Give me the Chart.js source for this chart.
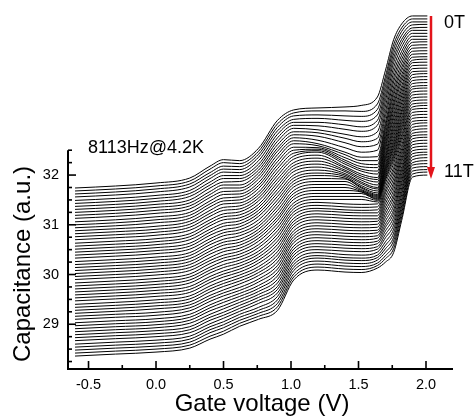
<!DOCTYPE html>
<html>
<head>
<meta charset="utf-8">
<script src="https://cdn.jsdelivr.net/npm/chart.js@4.4.1/dist/chart.umd.min.js"></script>
<style>
  html, body { margin: 0; padding: 0; background: #fff; }
  #wrap { width: 475px; height: 416px; }
</style>
</head>
<body>
<div id="wrap"><canvas id="capChart" width="475" height="416"></canvas></div>
<script>
// gate voltage sample points (V), shared by every trace
const gateVoltage = [-0.6, -0.3, 0.0, 0.25, 0.4, 0.5, 0.62, 0.76, 0.9, 1.02, 1.2, 1.4, 1.52, 1.64, 1.70, 1.76, 1.82, 1.9, 2.01];

// one trace per field step, 0T on top down to 11T (traces offset as in the figure)
const fieldTesla = [0, 0.2, 0.4, 0.6, 0.8, 1.0, 1.2, 1.4, 1.6, 1.8, 2.0, 2.2, 2.4, 2.6, 2.8, 3.0, 3.2, 3.4, 3.6, 3.8,
  4.0, 4.2, 4.4, 4.6, 4.8, 5.0, 5.2, 5.4, 5.6, 5.8, 6.0, 6.2, 6.4, 6.6, 6.8, 7.0, 7.2, 7.4, 7.6, 7.8,
  8.0, 8.2, 8.4, 8.6, 8.8, 9.0, 9.2, 9.4, 9.6, 9.8, 10.0, 10.2, 10.4, 10.6, 10.8, 11.0];

// capacitance (a.u.), one row per field value
const capacitance = [
  [31.74, 31.78, 31.84, 31.94, 32.18, 32.31, 32.29, 32.54, 33.10, 33.31, 33.35, 33.37, 33.40, 33.57, 34.11, 34.72, 35.04, 35.20, 35.20],
  [31.68, 31.72, 31.78, 31.88, 32.12, 32.25, 32.23, 32.48, 33.03, 33.25, 33.29, 33.29, 33.28, 33.43, 33.99, 34.62, 34.96, 35.14, 35.14],
  [31.62, 31.66, 31.72, 31.82, 32.05, 32.18, 32.17, 32.42, 32.96, 33.19, 33.21, 33.19, 33.18, 33.32, 33.90, 34.53, 34.89, 35.08, 35.08],
  [31.56, 31.60, 31.66, 31.76, 31.99, 32.12, 32.11, 32.36, 32.89, 33.12, 33.14, 33.10, 33.08, 33.21, 33.80, 34.44, 34.81, 35.02, 35.03],
  [31.49, 31.53, 31.59, 31.69, 31.93, 32.06, 32.05, 32.29, 32.82, 33.06, 33.06, 33.01, 32.97, 33.10, 33.70, 34.35, 34.73, 34.96, 34.97],
  [31.43, 31.47, 31.53, 31.63, 31.86, 31.99, 31.99, 32.22, 32.75, 33.00, 32.99, 32.92, 32.88, 33.00, 33.60, 34.26, 34.66, 34.91, 34.91],
  [31.37, 31.41, 31.47, 31.57, 31.80, 31.93, 31.93, 32.16, 32.68, 32.94, 32.91, 32.82, 32.77, 32.87, 33.50, 34.16, 34.58, 34.85, 34.85],
  [31.31, 31.35, 31.41, 31.50, 31.74, 31.86, 31.87, 32.10, 32.61, 32.87, 32.85, 32.74, 32.67, 32.74, 33.39, 34.06, 34.49, 34.79, 34.79],
  [31.25, 31.29, 31.35, 31.44, 31.67, 31.80, 31.80, 32.04, 32.54, 32.81, 32.78, 32.65, 32.57, 32.62, 33.28, 33.96, 34.41, 34.73, 34.73],
  [31.19, 31.23, 31.29, 31.38, 31.61, 31.74, 31.74, 31.98, 32.48, 32.75, 32.70, 32.55, 32.46, 32.50, 33.18, 33.87, 34.33, 34.67, 34.68],
  [31.13, 31.17, 31.23, 31.32, 31.55, 31.67, 31.68, 31.92, 32.41, 32.69, 32.63, 32.46, 32.36, 32.37, 33.07, 33.77, 34.25, 34.61, 34.62],
  [31.06, 31.10, 31.16, 31.25, 31.48, 31.61, 31.62, 31.85, 32.34, 32.63, 32.59, 32.41, 32.29, 32.29, 32.99, 33.68, 34.17, 34.55, 34.56],
  [31.00, 31.04, 31.10, 31.19, 31.42, 31.54, 31.56, 31.79, 32.27, 32.56, 32.55, 32.35, 32.23, 32.21, 32.92, 33.60, 34.10, 34.49, 34.50],
  [30.94, 30.98, 31.04, 31.13, 31.36, 31.48, 31.50, 31.73, 32.20, 32.50, 32.52, 32.30, 32.17, 32.15, 32.84, 33.51, 34.02, 34.43, 34.44],
  [30.88, 30.92, 30.97, 31.07, 31.29, 31.42, 31.44, 31.66, 32.13, 32.44, 32.49, 32.26, 32.12, 32.08, 32.77, 33.43, 33.95, 34.37, 34.38],
  [30.82, 30.86, 30.91, 31.01, 31.23, 31.35, 31.38, 31.60, 32.06, 32.38, 32.46, 32.22, 32.08, 32.02, 32.71, 33.36, 33.88, 34.31, 34.33],
  [30.76, 30.80, 30.85, 30.95, 31.17, 31.29, 31.32, 31.54, 31.99, 32.32, 32.40, 32.17, 32.02, 31.95, 32.64, 33.28, 33.80, 34.26, 34.27],
  [30.70, 30.74, 30.79, 30.89, 31.10, 31.22, 31.26, 31.48, 31.92, 32.25, 32.34, 32.14, 31.98, 31.91, 32.58, 33.20, 33.73, 34.20, 34.21],
  [30.63, 30.67, 30.72, 30.82, 31.04, 31.16, 31.20, 31.41, 31.85, 32.19, 32.28, 32.10, 31.94, 31.86, 32.52, 33.13, 33.66, 34.14, 34.15],
  [30.57, 30.61, 30.66, 30.76, 30.98, 31.10, 31.14, 31.35, 31.78, 32.13, 32.22, 32.07, 31.90, 31.80, 32.45, 33.05, 33.59, 34.08, 34.09],
  [30.51, 30.55, 30.60, 30.70, 30.91, 31.03, 31.08, 31.29, 31.71, 32.07, 32.16, 32.03, 31.86, 31.75, 32.39, 32.98, 33.52, 34.02, 34.04],
  [30.45, 30.49, 30.54, 30.63, 30.85, 30.97, 31.02, 31.23, 31.64, 32.00, 32.10, 32.00, 31.83, 31.72, 32.34, 32.91, 33.45, 33.96, 33.98],
  [30.39, 30.43, 30.48, 30.57, 30.79, 30.90, 30.96, 31.17, 31.57, 31.94, 32.04, 31.97, 31.79, 31.68, 32.29, 32.84, 33.38, 33.90, 33.92],
  [30.33, 30.37, 30.42, 30.51, 30.72, 30.84, 30.90, 31.10, 31.50, 31.88, 31.99, 31.94, 31.76, 31.64, 32.23, 32.77, 33.31, 33.84, 33.86],
  [30.26, 30.30, 30.35, 30.44, 30.66, 30.78, 30.84, 31.03, 31.43, 31.82, 31.93, 31.92, 31.74, 31.61, 32.18, 32.70, 33.25, 33.78, 33.80],
  [30.20, 30.24, 30.29, 30.38, 30.60, 30.71, 30.78, 30.97, 31.36, 31.76, 31.87, 31.87, 31.71, 31.59, 32.14, 32.64, 33.18, 33.73, 33.75],
  [30.14, 30.18, 30.23, 30.32, 30.53, 30.65, 30.71, 30.91, 31.29, 31.69, 31.81, 31.81, 31.69, 31.57, 32.10, 32.58, 33.12, 33.67, 33.69],
  [30.08, 30.12, 30.17, 30.26, 30.47, 30.59, 30.65, 30.85, 31.22, 31.63, 31.75, 31.75, 31.67, 31.55, 32.06, 32.53, 33.06, 33.61, 33.63],
  [30.02, 30.06, 30.11, 30.20, 30.41, 30.52, 30.59, 30.79, 31.15, 31.57, 31.69, 31.69, 31.66, 31.53, 32.02, 32.47, 33.00, 33.55, 33.57],
  [29.96, 30.00, 30.05, 30.14, 30.34, 30.46, 30.53, 30.73, 31.09, 31.51, 31.63, 31.63, 31.63, 31.51, 31.98, 32.41, 32.94, 33.49, 33.51],
  [29.90, 29.94, 29.99, 30.08, 30.28, 30.39, 30.47, 30.67, 31.02, 31.44, 31.57, 31.57, 31.57, 31.49, 31.94, 32.36, 32.88, 33.43, 33.45],
  [29.83, 29.87, 29.92, 30.01, 30.22, 30.33, 30.41, 30.60, 30.95, 31.38, 31.51, 31.51, 31.51, 31.46, 31.90, 32.30, 32.81, 33.37, 33.40],
  [29.77, 29.81, 29.86, 29.95, 30.15, 30.27, 30.35, 30.54, 30.88, 31.32, 31.45, 31.42, 31.41, 31.42, 31.84, 32.23, 32.75, 33.32, 33.34],
  [29.71, 29.75, 29.80, 29.89, 30.09, 30.20, 30.29, 30.47, 30.81, 31.26, 31.39, 31.36, 31.35, 31.36, 31.77, 32.15, 32.68, 33.26, 33.28],
  [29.65, 29.69, 29.74, 29.83, 30.03, 30.14, 30.23, 30.41, 30.74, 31.20, 31.33, 31.30, 31.29, 31.30, 31.70, 32.08, 32.60, 33.20, 33.22],
  [29.59, 29.63, 29.68, 29.76, 29.96, 30.07, 30.17, 30.35, 30.67, 31.13, 31.28, 31.25, 31.24, 31.24, 31.64, 32.00, 32.53, 33.14, 33.16],
  [29.53, 29.57, 29.62, 29.70, 29.90, 30.01, 30.11, 30.29, 30.60, 31.07, 31.22, 31.19, 31.18, 31.18, 31.57, 31.92, 32.46, 33.08, 33.10],
  [29.47, 29.51, 29.56, 29.64, 29.84, 29.95, 30.05, 30.23, 30.53, 31.01, 31.16, 31.13, 31.12, 31.12, 31.50, 31.84, 32.39, 33.02, 33.05],
  [29.40, 29.44, 29.49, 29.57, 29.77, 29.88, 29.99, 30.16, 30.46, 30.95, 31.10, 31.07, 31.06, 31.07, 31.43, 31.77, 32.32, 32.96, 32.99],
  [29.34, 29.38, 29.43, 29.51, 29.71, 29.82, 29.93, 30.10, 30.39, 30.88, 31.04, 31.01, 31.00, 31.01, 31.36, 31.69, 32.25, 32.90, 32.93],
  [29.28, 29.32, 29.37, 29.45, 29.65, 29.76, 29.87, 30.04, 30.32, 30.82, 30.98, 30.95, 30.94, 30.95, 31.29, 31.61, 32.17, 32.84, 32.87],
  [29.22, 29.26, 29.31, 29.39, 29.58, 29.69, 29.81, 29.98, 30.25, 30.76, 30.92, 30.89, 30.88, 30.89, 31.22, 31.54, 32.10, 32.79, 32.81],
  [29.16, 29.20, 29.24, 29.33, 29.52, 29.63, 29.74, 29.91, 30.18, 30.70, 30.86, 30.83, 30.82, 30.84, 31.15, 31.46, 32.03, 32.73, 32.76],
  [29.10, 29.14, 29.18, 29.27, 29.46, 29.57, 29.68, 29.85, 30.11, 30.64, 30.80, 30.77, 30.76, 30.78, 31.08, 31.38, 31.96, 32.67, 32.70],
  [29.03, 29.07, 29.11, 29.20, 29.39, 29.50, 29.62, 29.78, 30.04, 30.57, 30.74, 30.71, 30.70, 30.73, 31.01, 31.30, 31.89, 32.61, 32.64],
  [28.97, 29.01, 29.05, 29.14, 29.33, 29.44, 29.56, 29.72, 29.97, 30.51, 30.68, 30.65, 30.64, 30.67, 30.95, 31.23, 31.82, 32.55, 32.58],
  [28.91, 28.95, 28.99, 29.08, 29.27, 29.37, 29.50, 29.66, 29.90, 30.45, 30.62, 30.59, 30.58, 30.62, 30.88, 31.15, 31.74, 32.49, 32.52],
  [28.85, 28.89, 28.93, 29.02, 29.20, 29.31, 29.44, 29.60, 29.83, 30.39, 30.56, 30.53, 30.52, 30.56, 30.81, 31.07, 31.67, 32.43, 32.46],
  [28.79, 28.83, 28.87, 28.95, 29.14, 29.24, 29.38, 29.54, 29.76, 30.33, 30.50, 30.47, 30.46, 30.51, 30.74, 30.99, 31.60, 32.37, 32.41],
  [28.73, 28.77, 28.81, 28.89, 29.08, 29.18, 29.32, 29.48, 29.70, 30.26, 30.44, 30.40, 30.39, 30.45, 30.66, 30.91, 31.52, 32.31, 32.35],
  [28.67, 28.71, 28.75, 28.83, 29.01, 29.12, 29.26, 29.42, 29.63, 30.20, 30.38, 30.34, 30.33, 30.39, 30.59, 30.83, 31.45, 32.25, 32.29],
  [28.60, 28.64, 28.68, 28.76, 28.95, 29.05, 29.20, 29.34, 29.56, 30.14, 30.33, 30.29, 30.28, 30.34, 30.52, 30.75, 31.38, 32.20, 32.23],
  [28.54, 28.58, 28.62, 28.70, 28.89, 28.99, 29.14, 29.28, 29.49, 30.08, 30.27, 30.23, 30.22, 30.29, 30.45, 30.68, 31.31, 32.14, 32.17],
  [28.48, 28.52, 28.56, 28.64, 28.83, 28.93, 29.08, 29.22, 29.42, 30.01, 30.21, 30.17, 30.16, 30.23, 30.38, 30.60, 31.24, 32.08, 32.11],
  [28.42, 28.46, 28.50, 28.58, 28.76, 28.86, 29.02, 29.16, 29.35, 29.95, 30.15, 30.11, 30.10, 30.18, 30.32, 30.52, 31.16, 32.02, 32.06],
  [28.36, 28.40, 28.44, 28.52, 28.70, 28.80, 28.96, 29.10, 29.28, 29.89, 30.09, 30.05, 30.04, 30.13, 30.25, 30.44, 31.09, 31.96, 32.00]
];

// labelled ticks
const xTicks = [-0.5, 0.0, 0.5, 1.0, 1.5, 2.0];
const yTicks = [29, 30, 31, 32];

const FONT = '"Liberation Sans", Arial, Helvetica, sans-serif';

// axes are drawn by hand: the left axis stops at 32.5 while the traces run above it
const axesPlugin = {
    id: "axesPlugin",
    afterDraw(chart) {
        const ctx = chart.ctx;
        const xs = chart.scales.x;
        const ys = chart.scales.y;
        const area = chart.chartArea;
        const axisTop = ys.getPixelForValue(32.5);

        ctx.save();
        ctx.strokeStyle = "#000";
        ctx.lineWidth = 2;
        ctx.beginPath();
        ctx.moveTo(area.left, axisTop);
        ctx.lineTo(area.left, area.bottom);
        ctx.lineTo(area.right, area.bottom);
        ctx.stroke();

        // x ticks every 0.25 V, pointing inward
        ctx.lineWidth = 1.6;
        for (let i = -2; i <= 8; i++) {
            const px = xs.getPixelForValue(i * 0.25);
            const len = i % 2 === 0 ? 8 : 4;
            ctx.beginPath();
            ctx.moveTo(px, area.bottom);
            ctx.lineTo(px, area.bottom - len);
            ctx.stroke();
        }
        // y ticks every 0.25
        for (let i = 113; i <= 130; i++) {
            const py = ys.getPixelForValue(i * 0.25);
            const len = i % 4 === 0 ? 8 : 4;
            ctx.beginPath();
            ctx.moveTo(area.left, py);
            ctx.lineTo(area.left + len, py);
            ctx.stroke();
        }

        ctx.fillStyle = "#000";
        ctx.font = "14.5px " + FONT;
        ctx.textAlign = "center";
        ctx.textBaseline = "top";
        xTicks.forEach(v => {
            ctx.fillText(v.toFixed(1), xs.getPixelForValue(v), area.bottom + 9);
        });
        ctx.textAlign = "right";
        ctx.textBaseline = "middle";
        yTicks.forEach(v => {
            ctx.fillText(String(v), area.left - 9, ys.getPixelForValue(v));
        });

        // axis titles
        ctx.font = "24px " + FONT;
        ctx.textAlign = "center";
        ctx.textBaseline = "alphabetic";
        ctx.fillText("Gate voltage (V)", 262, 411);
        ctx.save();
        ctx.translate(30, 264);
        ctx.rotate(-Math.PI / 2);
        ctx.fillText("Capacitance (a.u.)", 0, 0);
        ctx.restore();

        // annotations
        ctx.font = "18px " + FONT;
        ctx.textAlign = "left";
        ctx.fillText("8113Hz@4.2K", 88, 153);
        ctx.fillText("0T", 444, 28);
        ctx.fillText("11T", 444, 177);

        // field arrow 0T -> 11T
        ctx.strokeStyle = "#e3141b";
        ctx.fillStyle = "#e3141b";
        ctx.lineWidth = 2.5;
        ctx.beginPath();
        ctx.moveTo(431, 16);
        ctx.lineTo(431, 168);
        ctx.stroke();
        ctx.beginPath();
        ctx.moveTo(427, 167);
        ctx.lineTo(435, 167);
        ctx.lineTo(431, 179);
        ctx.closePath();
        ctx.fill();
        ctx.restore();
    }
};

const traces = capacitance.map((row, i) => ({
    label: fieldTesla[i] + " T",
    data: row.map((c, j) => ({ x: gateVoltage[j], y: c })),
    borderColor: "#000",
    borderWidth: 1,
    pointRadius: 0,
    fill: false,
    cubicInterpolationMode: "monotone"
}));

const capChart = new Chart(document.getElementById("capChart").getContext("2d"), {
    type: "line",
    data: { datasets: traces },
    options: {
        responsive: false,
        animation: false,
        layout: { padding: { left: 68, right: 22, top: 5, bottom: 47 } },
        scales: {
            x: { type: "linear", min: -0.652, max: 2.2, display: false },
            y: { type: "linear", min: 28.1, max: 35.42, display: false }
        },
        plugins: {
            legend: { display: false },
            tooltip: { enabled: false }
        }
    },
    plugins: [axesPlugin]
});
</script>
</body>
</html>
